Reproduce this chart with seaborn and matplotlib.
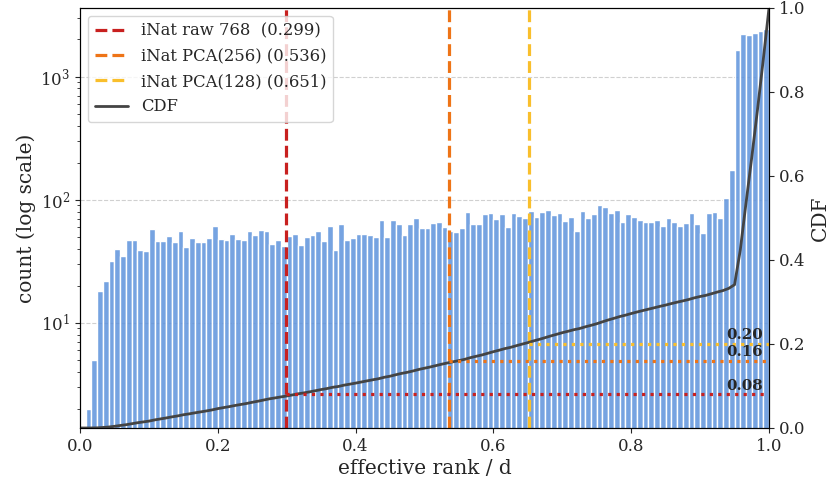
import numpy as np
import pandas as pd
import matplotlib
matplotlib.use("Agg")
import matplotlib.pyplot as plt
import seaborn as sns

# Histogram of effective rank / d (120 equal-width bins on [0, 1])
n_bins = 120
counts = [
    0, 2, 5, 18, 22, 32, 40, 35, 47, 47, 39, 38, 58, 46, 46, 51, 45, 56, 41, 49, 45, 45, 49, 61,
    48, 47, 53, 48, 47, 56, 52, 57, 56, 44, 47, 42, 51, 53, 43, 50, 52, 56, 46, 61, 39, 63, 47, 49,
    53, 53, 52, 50, 69, 50, 69, 63, 52, 64, 71, 59, 59, 65, 66, 60, 56, 55, 59, 80, 64, 63, 77, 78,
    70, 76, 60, 78, 74, 71, 81, 73, 80, 83, 75, 78, 67, 73, 56, 81, 71, 76, 91, 87, 78, 83, 66, 77,
    72, 68, 66, 66, 68, 61, 71, 66, 61, 65, 78, 64, 54, 78, 79, 71, 104, 174,
    1641, 2228, 2158, 2261, 2355, 2449,
]

# Reference embeddings: label, effective rank / d, CDF at that point
ref_labels = ["iNat raw 768  (0.299)", "iNat PCA(256) (0.536)", "iNat PCA(128) (0.651)"]
ref_ranks = [0.299, 0.536, 0.651]
ref_cdf = [0.08, 0.16, 0.20]
ref_colors = ["#c8201f", "#ee7417", "#f9bf2c"]

sns.set_style("ticks")
plt.rcParams["font.family"] = ["DejaVu Serif"]
plt.rcParams["mathtext.fontset"] = "dejavuserif"

fig = plt.figure(figsize=(8.33, 4.84), dpi=100)
ax = fig.add_axes([80 / 833, 1 - 428 / 484, 689 / 833, 420 / 484])

bin_edges = np.linspace(0.0, 1.0, n_bins + 1)
hist_df = pd.DataFrame({
    "rank": 0.5 * (bin_edges[:-1] + bin_edges[1:]),
    "count": counts,
})
sns.histplot(data=hist_df, x="rank", weights="count", bins=n_bins, binrange=(0, 1),
             ax=ax, color="#5e93dc", alpha=0.85, edgecolor="white", linewidth=1.0)
ax.set_yscale("log")
ax.set_xlim(0, 1)
ax.set_ylim(1.4, 3600)
ax.set_axisbelow(True)
ax.yaxis.grid(True, which="major", linestyle="--", color="#d0d0d0", linewidth=0.8)
ax.set_xlabel("effective rank / d", fontsize=14.5, labelpad=3)
ax.set_ylabel("count (log scale)", fontsize=14.5, labelpad=3)
ax.tick_params(axis="both", which="major", labelsize=12)

for lab, r, col in zip(ref_labels, ref_ranks, ref_colors):
    ax.axvline(r, color=col, linestyle="--", linewidth=2.3, label=lab)

# Cumulative distribution on a twin axis
ax2 = ax.twinx()
cdf_df = pd.DataFrame({
    "edge": bin_edges,
    "cdf": np.concatenate([[0.0], np.cumsum(counts) / np.sum(counts)]),
})
sns.lineplot(data=cdf_df, x="edge", y="cdf", ax=ax2, color="#444444", linewidth=2.0,
             label="CDF")
ax2.set_ylim(0, 1)
ax2.set_ylabel("CDF", fontsize=14.5)
ax2.tick_params(axis="y", labelsize=12)

for r, c, col in zip(ref_ranks, ref_cdf, ref_colors):
    ax2.plot([r, 1.0], [c, c], linestyle=":", color=col, linewidth=2.3)
    ax2.text(0.991, c + 0.004, f"{c:.2f}", ha="right", va="bottom",
             fontsize=10.8, fontweight="bold")

h1, l1 = ax.get_legend_handles_labels()
h2, l2 = ax2.get_legend_handles_labels()
ax2.legend(h1 + h2, l1 + l2, loc="upper left", fontsize=11.8)
if ax.get_legend() is not None:
    ax.get_legend().remove()

for sp in list(ax.spines.values()) + list(ax2.spines.values()):
    sp.set_visible(True)
    sp.set_color("black")

fig.savefig("out.png", dpi=100)
